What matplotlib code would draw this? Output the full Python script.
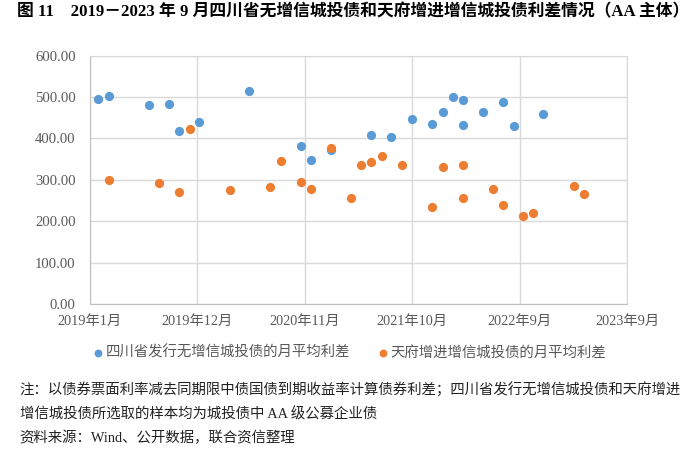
import matplotlib
matplotlib.use('Agg')
import matplotlib.pyplot as plt
import pandas as pd

blue_dates = ['2019-01-27', '2019-03-02', '2019-07-09', '2019-09-10', '2019-10-13',
              '2019-12-14', '2020-05-22', '2020-11-01', '2020-12-03', '2021-02-06',
              '2021-06-13', '2021-08-14', '2021-10-19', '2021-12-23', '2022-01-25',
              '2022-02-25', '2022-03-31', '2022-03-29', '2022-06-02', '2022-08-04',
              '2022-09-07', '2022-12-10']
blue_vals = [495, 503, 481, 483, 418, 440, 515, 382, 347, 372, 409, 404, 447,
             435, 464, 500, 494, 433, 464, 489, 429, 460]

orange_dates = ['2019-03-02', '2019-08-08', '2019-10-13', '2019-11-14', '2020-03-20',
                '2020-07-26', '2020-08-29', '2020-11-01', '2020-12-03', '2021-02-06',
                '2021-04-09', '2021-05-10', '2021-06-13', '2021-07-15', '2021-09-17',
                '2021-12-21', '2022-01-25', '2022-03-29', '2022-03-31', '2022-07-04',
                '2022-08-04', '2022-10-07', '2022-11-08', '2023-03-16', '2023-04-19']
orange_vals = [299, 293, 271, 423, 275, 282, 345, 294, 277, 377, 257, 335, 342,
               357, 337, 235, 332, 337, 255, 277, 240, 213, 220, 286, 266]

xtick_labels = ['2019年1月', '2019年12月', '2020年11月', '2021年10月', '2022年9月', '2023年9月']
tick_step = 341  # days between axis ticks
start = pd.Timestamp('2019-01-01')

blue_label = '四川省发行无增信城投债的月平均利差'
orange_label = '天府增进增信城投债的月平均利差'

title = '图 11　2019－2023 年 9 月四川省无增信城投债和天府增进增信城投债利差情况（AA 主体）'
notes = ['注：以债券票面利率减去同期限中债国债到期收益率计算债券利差；四川省发行无增信城投债和天府增进',
         '增信城投债所选取的样本均为城投债中 AA 级公募企业债',
         '资料来源：Wind、公开数据，联合资信整理']

serif_cjk = ['Liberation Serif', 'Noto Sans CJK SC']
plt.rcParams['font.family'] = serif_cjk

def to_days(dates):
    return (pd.to_datetime(dates) - start).days

fig = plt.figure(figsize=(7, 4.53), dpi=100)
ax = fig.add_axes([0.128, 0.329, 0.768, 0.548])

ax.scatter(to_days(blue_dates), blue_vals, s=44, color='#5B9BD5', zorder=3,
           linewidths=0, label=blue_label)
ax.scatter(to_days(orange_dates), orange_vals, s=44, color='#ED7D31', zorder=4,
           linewidths=0, label=orange_label)

ax.set_xlim(0, tick_step * 5)
ax.set_xticks([tick_step * i for i in range(6)])
ax.set_xticklabels(xtick_labels)
ax.set_ylim(0, 600)
ax.set_yticks(range(0, 601, 100))
ax.set_yticklabels(['%.2f' % v for v in range(0, 601, 100)])
ax.tick_params(length=0, labelsize=10.6, colors='#595959')
ax.tick_params(axis='x', labelsize=10.3, pad=8)
ax.tick_params(axis='y', pad=10)
ax.grid(True, color='#D9D9D9', linewidth=1)
ax.set_axisbelow(True)
for sp in ax.spines.values():
    sp.set_color('#D9D9D9')
ax.spines['left'].set_color('#BFBFBF')
ax.spines['bottom'].set_color('#BFBFBF')

fig.legend(loc='center', bbox_to_anchor=(0.5, 0.222), ncol=2, frameon=False,
           fontsize=10.4, handlelength=0.6, handletextpad=0.2, columnspacing=2.0,
           markerscale=0.85, labelcolor='#595959')

fig.text(0.024, 0.973, title, fontsize=12.1, fontweight='bold', va='center',
         family=serif_cjk)
for i, line in enumerate(notes):
    fig.text(0.028, 0.139 - i * 0.053, line, fontsize=10.4, va='center',
             color='#222222', family=serif_cjk)

fig.savefig('out.png', dpi=100)
